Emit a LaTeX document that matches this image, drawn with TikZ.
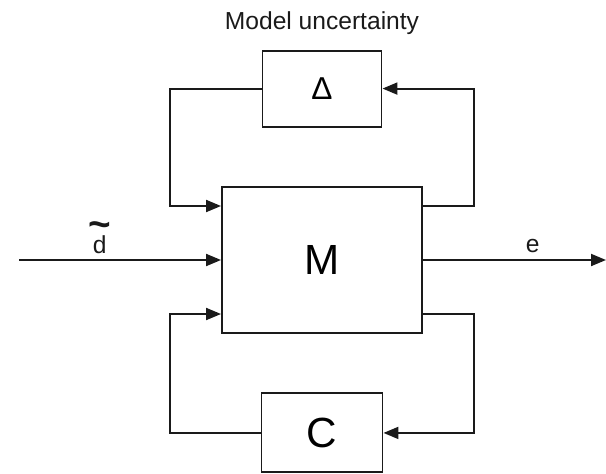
\documentclass[tikz,border=0pt]{standalone}
\usepackage{fontspec}
\setmainfont{Liberation Sans}
\usepackage{tikz}
\usetikzlibrary{arrows.meta,positioning}
\definecolor{Ink}{HTML}{1A1A1A}
\tikzset{blk/.style={draw=Ink,line width=1.1pt,inner sep=0pt,align=center},sig/.style={-{Triangle[length=3mm,width=2.4mm]},line width=1.1pt,draw=Ink},lbl/.style={font=\fontsize{14}{16}\selectfont,text=Ink}}

\begin{document}
\begin{tikzpicture}[node distance=1.17cm]
      \useasboundingbox (0,0) rectangle (12.12,-9.46);
      \node[blk,minimum width=4cm,minimum height=2.92cm,font=\fontsize{24}{28}\selectfont](M) at (6.44,-5.2){M};
      \node[blk,minimum width=2.38cm,minimum height=1.52cm,font=\fontsize{18}{20}\selectfont,above=of M](delta){Δ};
      \node[blk,minimum width=2.42cm,minimum height=1.58cm,font=\fontsize{24}{28}\selectfont,below=of M](C){C};
      \node[lbl,above=0.18cm of delta](title){Model uncertainty};
      \coordinate (din) at (0.38,-5.2);\coordinate (eout) at (12.12,-5.2);
      \draw[sig](din)--(M.west) node[lbl,pos=0.4,above,align=center,inner sep=3pt](d){{\fontsize{22}{14}\selectfont\bfseries\char`\~}\\[-0.95ex]d};
      \draw[sig](M.east)--(eout) node[lbl,pos=0.6,above](e){e};
      \draw[sig](delta.west)-|([xshift=-1.02cm,yshift=1.08cm]M.west)--([yshift=1.08cm]M.west);
      \draw[sig]([yshift=1.08cm]M.east)--([xshift=1.02cm,yshift=1.08cm]M.east)|-(delta.east);
      \draw[sig]([yshift=-1.08cm]M.east)--([xshift=1.02cm,yshift=-1.08cm]M.east)|-(C.east);
      \draw[sig](C.west)-|([xshift=-1.02cm,yshift=-1.08cm]M.west)--([yshift=-1.08cm]M.west);
    \end{tikzpicture}
\end{document}
